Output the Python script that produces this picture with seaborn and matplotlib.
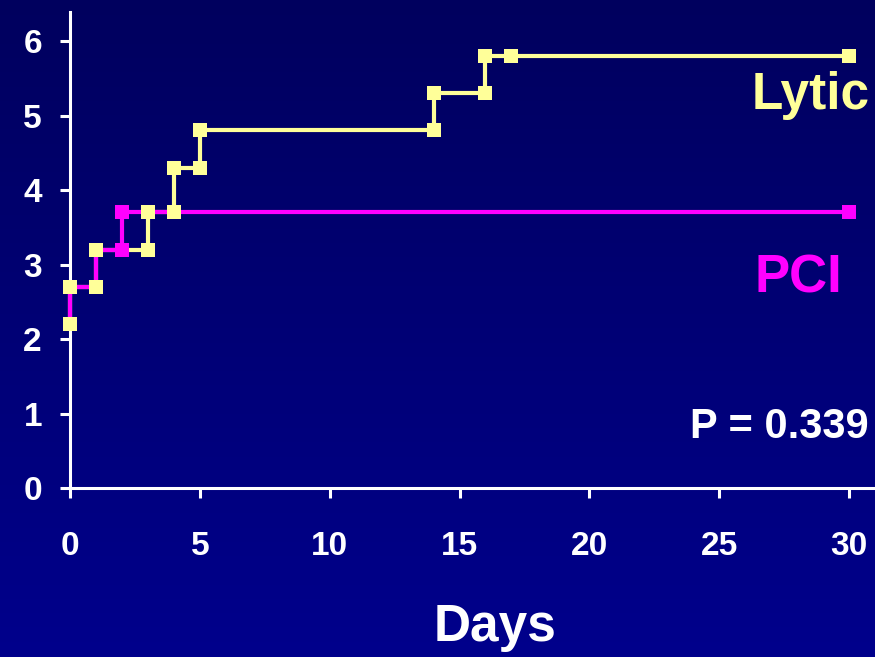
import matplotlib
matplotlib.use("Agg")
import matplotlib.pyplot as plt
import numpy as np
import seaborn as sns

# step data
lytic_days = [0, 0, 1, 1, 3, 3, 4, 4, 5, 5, 14, 14, 16, 16, 17, 30]
lytic_vals = [2.2, 2.7, 2.7, 3.2, 3.2, 3.7, 3.7, 4.3, 4.3, 4.8, 4.8, 5.3, 5.3, 5.8, 5.8, 5.8]
pci_days = [0, 0, 1, 1, 2, 2, 30]
pci_vals = [2.2, 2.7, 2.7, 3.2, 3.2, 3.7, 3.7]

x_ticks = [0, 5, 10, 15, 20, 25, 30]
y_ticks = [0, 1, 2, 3, 4, 5, 6]

YELLOW = "#FFFF99"
MAGENTA = "#FF00FF"

sns.set_style("white")
plt.rcParams["font.family"] = ["Liberation Sans", "DejaVu Sans"]
plt.rcParams["font.weight"] = "bold"

fig = plt.figure(figsize=(8.75, 6.57), dpi=100)

# navy gradient background
bg = fig.add_axes([0, 0, 1, 1], zorder=-10)
grad = np.linspace(0, 1, 256).reshape(-1, 1)
cmap = matplotlib.colors.LinearSegmentedColormap.from_list("bg", ["#00005E", "#00008C"])
bg.imshow(grad, aspect="auto", cmap=cmap, extent=[0, 1, 0, 1], origin="upper")
bg.axis("off")

ax = fig.add_axes([70 / 875, 169 / 657, 805 / 875, 476 / 657])
ax.set_facecolor("none")

sns.lineplot(x=lytic_days, y=lytic_vals, sort=False, estimator=None, color=YELLOW,
             linewidth=3, ax=ax, zorder=2)
sns.lineplot(x=pci_days, y=pci_vals, sort=False, estimator=None, color=MAGENTA,
             linewidth=3, ax=ax, zorder=3)
sns.scatterplot(x=pci_days, y=pci_vals, marker="s", s=110, color=MAGENTA,
                linewidth=0, ax=ax, zorder=4, clip_on=False)
sns.scatterplot(x=lytic_days, y=lytic_vals, marker="s", s=110, color=YELLOW,
                linewidth=0, ax=ax, zorder=5, clip_on=False)
for ln in ax.lines:
    ln.set_clip_on(False)

ax.set_xlim(0, 31)
ax.set_ylim(0, 6.39)
ax.set_xticks(x_ticks)
ax.set_yticks(y_ticks)
ax.set_xlabel("")
ax.set_ylabel("")

for side in ["top", "right"]:
    ax.spines[side].set_visible(False)
for side in ["left", "bottom"]:
    ax.spines[side].set_color("white")
    ax.spines[side].set_linewidth(2.2)

ax.tick_params(axis="both", colors="white", direction="out", length=7.2, width=2.2,
               labelsize=24, bottom=True, left=True)
ax.tick_params(axis="x", pad=24)
ax.tick_params(axis="y", pad=13)
for lbl in ax.get_xticklabels() + ax.get_yticklabels():
    lbl.set_fontweight("bold")

ax.text(30.8, 5.09, "Lytic", color=YELLOW, fontsize=37, fontweight="bold",
        ha="right", va="baseline")
ax.text(29.73, 2.63, "PCI", color=MAGENTA, fontsize=38, fontweight="bold",
        ha="right", va="baseline")
ax.text(30.77, 0.67, "P = 0.339", color="white", fontsize=30, fontweight="bold",
        ha="right", va="baseline")
fig.text(495 / 875, 16 / 657, "Days", color="white", fontsize=37, fontweight="bold",
         ha="center", va="baseline")

fig.savefig("out.png", dpi=100)
